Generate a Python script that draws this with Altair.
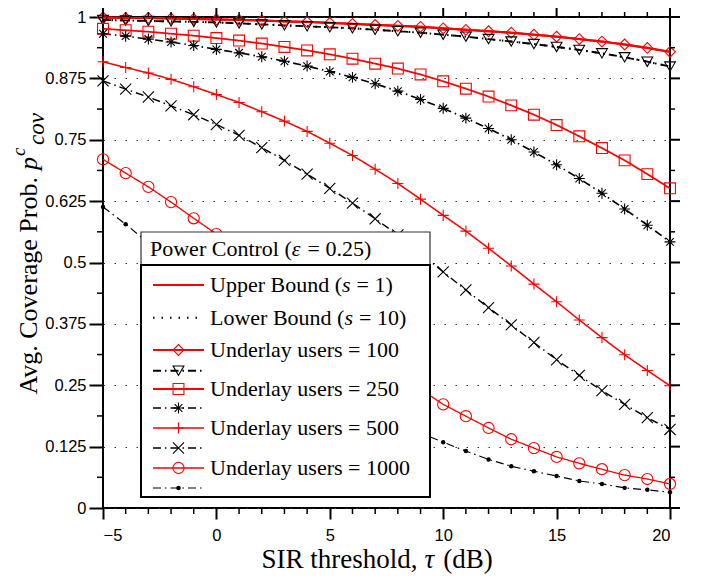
import altair as alt
import pandas as pd

# ---------------- data ----------------
x_vals = list(range(-5, 21))

upper_100 = [0.999, 0.998, 0.998, 0.997, 0.996, 0.995, 0.994, 0.993, 0.991, 0.990,
             0.988, 0.986, 0.984, 0.982, 0.980, 0.977, 0.974, 0.971, 0.968, 0.964,
             0.960, 0.955, 0.950, 0.944, 0.937, 0.929]
lower_100 = [0.994, 0.993, 0.992, 0.991, 0.990, 0.989, 0.987, 0.985, 0.983, 0.981,
             0.979, 0.977, 0.974, 0.971, 0.968, 0.964, 0.960, 0.955, 0.950, 0.945,
             0.939, 0.933, 0.926, 0.918, 0.909, 0.899]
upper_250 = [0.976, 0.973, 0.970, 0.966, 0.962, 0.957, 0.952, 0.946, 0.939, 0.932,
             0.924, 0.915, 0.905, 0.895, 0.883, 0.869, 0.854, 0.838, 0.820, 0.801,
             0.780, 0.757, 0.733, 0.708, 0.680, 0.651]
lower_250 = [0.966, 0.961, 0.955, 0.949, 0.942, 0.934, 0.927, 0.919, 0.910, 0.900,
             0.889, 0.877, 0.864, 0.849, 0.832, 0.814, 0.794, 0.773, 0.750, 0.725,
             0.699, 0.671, 0.641, 0.609, 0.576, 0.542]
upper_500 = [0.909, 0.897, 0.886, 0.873, 0.858, 0.842, 0.826, 0.807, 0.788, 0.767,
             0.743, 0.718, 0.690, 0.661, 0.629, 0.596, 0.564, 0.529, 0.493, 0.456,
             0.420, 0.383, 0.347, 0.312, 0.280, 0.249]
lower_500 = [0.870, 0.853, 0.837, 0.819, 0.801, 0.781, 0.759, 0.734, 0.708, 0.680,
             0.651, 0.621, 0.589, 0.556, 0.519, 0.481, 0.444, 0.408, 0.373, 0.337,
             0.302, 0.270, 0.239, 0.211, 0.184, 0.160]
upper_1000 = [0.710, 0.682, 0.654, 0.623, 0.590, 0.558, 0.524, 0.489, 0.453, 0.416,
              0.380, 0.343, 0.308, 0.274, 0.242, 0.211, 0.187, 0.163, 0.140, 0.122,
              0.104, 0.091, 0.079, 0.067, 0.059, 0.049]
lower_1000 = [0.613, 0.578, 0.540, 0.500, 0.460, 0.420, 0.381, 0.343, 0.307, 0.274,
              0.244, 0.217, 0.193, 0.172, 0.153, 0.134, 0.116, 0.099, 0.085, 0.075,
              0.065, 0.055, 0.049, 0.041, 0.037, 0.032]

x_major = [-5, 0, 5, 10, 15, 20]
x_minor = [v for v in x_vals if v % 5 != 0]
y_major = [0, 0.125, 0.25, 0.375, 0.5, 0.625, 0.75, 0.875, 1]
y_minor = [0.0625, 0.1875, 0.3125, 0.4375, 0.5625, 0.6875, 0.8125, 0.9375]

series_keys = ["UB", "LB", "U100", "L100", "U250", "L250", "U500", "L500", "U1000", "L1000"]
series_data = [upper_100, lower_100, upper_100, lower_100, upper_250, lower_250,
               upper_500, lower_500, upper_1000, lower_1000]
legend_labels = ["", "", "Underlay users = 100", "",
                 "Underlay users = 250", "", "Underlay users = 500", "",
                 "Underlay users = 1000", ""]
# labels with an italic math symbol: (before, symbol, after)
upper_label = ["Upper Bound (", "s", "= 1)"]
lower_label = ["Lower Bound (", "s", "= 10)"]
legend_title = ["Power Control (", "\u03b5", "= 0.25)"]
x_title = ["SIR threshold,", "\u03c4", "(dB)"]
y_title = ["Avg. Coverage Prob.", "p", "c", "cov"]

# ---------------- styles ----------------
RED, BLK = "#ff0000", "#000000"
DASHDOT = [8, 4, 1.5, 4]
colors = [RED, BLK, RED, BLK, RED, BLK, RED, BLK, RED, BLK]
dashes = [[1, 0], [1.5, 7], [1, 0], DASHDOT, [1, 0], DASHDOT, [1, 0], DASHDOT, [1, 0], DASHDOT]
widths = [2.2, 1.2, 1.1, 1.0, 1.1, 1.0, 1.1, 1.0, 1.1, 1.0]

AST = "M-1,0L1,0M0,-1L0,1M-0.7,-0.7L0.7,0.7M-0.7,0.7L0.7,-0.7"
PLUS = "M-1,0L1,0M0,-1L0,1"
CROSS = "M-1,-1L1,1M-1,1L1,-1"
point_keys = ["U100", "L100", "U250", "L250", "U500", "L500", "U1000"]
shapes = ["diamond", "triangle-down", "square", AST, PLUS, CROSS, "circle"]
sizes = [115, 125, 81, 110, 110, 64, 100]

W, H = 567, 491
SERIF = "Liberation Serif"
SANS = "Liberation Sans"

rows = []
for key, vals in zip(series_keys, series_data):
    for xv, yv in zip(x_vals, vals):
        rows.append({"series": key, "x": xv, "y": yv})
df = pd.DataFrame(rows)

xscale = alt.Scale(domain=[-5, 20], nice=False, zero=False)
yscale = alt.Scale(domain=[0, 1], nice=False, zero=False)
xaxis = alt.Axis(values=x_major, format="d", title=None, grid=False, domain=False, tickSize=11,
                 tickWidth=2, tickColor="black", labelFont=SANS, labelFontSize=16.5,
                 labelColor="black", labelPadding=8)
yaxis = alt.Axis(values=y_major, format=".3~f", title=None, grid=True, gridDash=[1.5, 9.5],
                 gridColor="#333333", gridWidth=1.2, domain=False, tickSize=14, tickWidth=2,
                 tickColor="black", labelFont=SANS, labelFontSize=16.5, labelColor="black",
                 labelPadding=3)
X = alt.X("x:Q", scale=xscale, axis=xaxis)
Y = alt.Y("y:Q", scale=yscale, axis=yaxis)

C = alt.Color("series:N", scale=alt.Scale(domain=series_keys, range=colors), legend=None)
SD = alt.StrokeDash("series:N", scale=alt.Scale(domain=series_keys, range=dashes), legend=None)
SW = alt.StrokeWidth("series:N", scale=alt.Scale(domain=series_keys, range=widths), legend=None)
SH = alt.Shape("series:N", scale=alt.Scale(domain=point_keys, range=shapes), legend=None)
SZ = alt.Size("series:N", scale=alt.Scale(domain=point_keys, range=sizes), legend=None)

base = alt.Chart(df)
lines = base.mark_line().encode(X, Y, color=C, strokeDash=SD, strokeWidth=SW)
pts = base.transform_filter(alt.FieldOneOfPredicate(field="series", oneOf=point_keys)).mark_point(
    filled=False, strokeWidth=1.1, opacity=1).encode(X, Y, color=C, shape=SH, size=SZ)
dots = base.transform_filter(alt.datum.series == "L1000").mark_point(
    filled=True, shape="circle", size=20, color="black", opacity=1).encode(X, Y)

# ticks on all four sides (outward), minor ticks
xmaj_df = pd.DataFrame({"x": x_major})
xmin_df = pd.DataFrame({"x": x_minor})
ymaj_df = pd.DataFrame({"y": y_major})
ymin_df = pd.DataFrame({"y": y_minor})
tick_layers = [
    alt.Chart(ymin_df).mark_rule(color="black", strokeWidth=1.5).encode(Y, x=alt.value(-6), x2=alt.value(0)),
    alt.Chart(ymaj_df).mark_rule(color="black", strokeWidth=2).encode(Y, x=alt.value(W), x2=alt.value(W + 10)),
    alt.Chart(ymin_df).mark_rule(color="black", strokeWidth=1.5).encode(Y, x=alt.value(W), x2=alt.value(W + 5)),
    alt.Chart(xmaj_df).mark_rule(color="black", strokeWidth=2).encode(X, y=alt.value(0), y2=alt.value(-9)),
    alt.Chart(xmin_df).mark_rule(color="black", strokeWidth=1.5).encode(X, y=alt.value(0), y2=alt.value(-5)),
    alt.Chart(xmin_df).mark_rule(color="black", strokeWidth=1.5).encode(X, y=alt.value(H), y2=alt.value(H + 6)),
]

one = pd.DataFrame({"k": [0]})


def txt(s, x, y, size, italic=False, align="left", baseline="middle", angle=None, dx=0, dy=0):
    kw = dict(align=align, baseline=baseline, font=SERIF, fontSize=size, color="black", dx=dx, dy=dy)
    if italic:
        kw["fontStyle"] = "italic"
    if angle is not None:
        kw["angle"] = angle
    return alt.Chart(one).mark_text(**kw).encode(x=alt.value(x), y=alt.value(y), text=alt.value(s))


# ---------------- legend (drawn with marks) ----------------
row_y = [268, 300.7, 333, 353.7, 372, 391, 411, 431, 451, 471]
leg_df = pd.DataFrame({"series": series_keys, "label": legend_labels, "py": row_y})
PY = alt.Y("py:Q", scale=None, axis=None)

box_title = alt.Chart(one).mark_rect(fill="white", stroke="#333333", strokeWidth=1.2).encode(
    x=alt.value(38), x2=alt.value(327), y=alt.value(215), y2=alt.value(248))
box_items = alt.Chart(one).mark_rect(fill="white", stroke="black", strokeWidth=2).encode(
    x=alt.value(38), x2=alt.value(327), y=alt.value(248), y2=alt.value(480))
leg_title = [txt(legend_title[0], 47, 232, 22),
             txt(legend_title[1], 188.8, 232, 22, italic=True),
             txt(legend_title[2], 204.5, 232, 22)]
leg_lines = alt.Chart(leg_df).mark_rule().encode(
    x=alt.value(50), x2=alt.value(101), y=PY, color=C, strokeDash=SD, strokeWidth=SW)
leg_pts = alt.Chart(leg_df).transform_filter(
    alt.FieldOneOfPredicate(field="series", oneOf=point_keys)).mark_point(
    filled=False, strokeWidth=1.1, opacity=1).encode(x=alt.value(75.5), y=PY, color=C, shape=SH, size=SZ)
leg_dot = alt.Chart(leg_df).transform_filter(alt.datum.series == "L1000").mark_point(
    filled=True, shape="circle", size=20, color="black", opacity=1).encode(x=alt.value(75.5), y=PY)
leg_text = alt.Chart(leg_df).mark_text(align="left", baseline="middle", font=SERIF, fontSize=22,
                                       color="black").encode(x=alt.value(107), y=PY, text="label:N")
leg_bounds = [txt(upper_label[0], 107, row_y[0], 22),
              txt(upper_label[1], 239.0, row_y[0], 22, italic=True),
              txt(upper_label[2], 253.6, row_y[0], 22),
              txt(lower_label[0], 107, row_y[1], 22),
              txt(lower_label[1], 241.4, row_y[1], 22, italic=True),
              txt(lower_label[2], 256.0, row_y[1], 22)]

# ---------------- axis titles ----------------
x_title_layers = [txt(x_title[0], 158.6, 551, 27, baseline="alphabetic"),
                  txt(x_title[1], 321.4, 551, 27, italic=True, baseline="alphabetic"),
                  txt(x_title[2], 340.3, 551, 27, baseline="alphabetic")]
YT_X, YT_Y = -66, 160
y_title_layers = [
    txt(y_title[0], YT_X, YT_Y, 26, align="right", baseline="alphabetic", angle=270),
    txt(y_title[1], YT_X, YT_Y, 26, italic=True, baseline="alphabetic", angle=270, dx=7),
    txt(y_title[2], YT_X, YT_Y, 19, italic=True, baseline="alphabetic", angle=270, dx=21, dy=-12),
    txt(y_title[3], YT_X, YT_Y, 23, italic=True, baseline="alphabetic", angle=270, dx=32, dy=7),
]

chart = alt.layer(
    lines, pts, dots, *tick_layers,
    box_title, box_items, *leg_title, leg_lines, leg_pts, leg_dot, leg_text, *leg_bounds,
    *x_title_layers, *y_title_layers,
).properties(
    width=W, height=H,
    padding={"left": 95, "top": 9, "right": 20, "bottom": 70},
    autosize=alt.AutoSizeParams(type="none"),
).configure_view(stroke="black", strokeWidth=2)

chart.save("out.html", embed_options={"renderer": "svg", "actions": False})
